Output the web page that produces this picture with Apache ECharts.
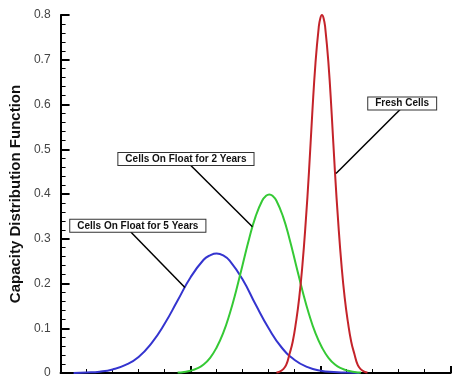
<!DOCTYPE html>
<html>
<head>
<meta charset="utf-8">
<script src="https://cdn.jsdelivr.net/npm/echarts@6/dist/echarts.min.js"></script>
<style>
html,body{margin:0;padding:0;background:#fff;}
#chart{width:457px;height:380px;}
</style>
</head>
<body>
<div id="chart"></div>
<script>
// ---- data ----
const yTicks = [0, 0.1, 0.2, 0.3, 0.4, 0.5, 0.6, 0.7, 0.8];

const blueX = [0.1, 0.2, 0.3, 0.4, 0.5, 0.6, 0.7, 0.8, 0.9, 1.0, 1.1, 1.15, 1.2, 1.25, 1.3, 1.4, 1.5, 1.6, 1.7, 1.8, 1.9, 2.0, 2.1, 2.2, 2.3];
const blueY = [0, 0.001, 0.003, 0.008, 0.018, 0.036, 0.067, 0.110, 0.162, 0.214, 0.253, 0.263, 0.267, 0.263, 0.251, 0.209, 0.153, 0.100, 0.057, 0.029, 0.013, 0.005, 0.002, 0.001, 0];

const greenX = [0.9, 0.95, 1.0, 1.05, 1.1, 1.15, 1.2, 1.25, 1.3, 1.35, 1.4, 1.45, 1.5, 1.55, 1.58, 1.605, 1.63, 1.66, 1.71, 1.76, 1.81, 1.86, 1.91, 1.96, 2.01, 2.06, 2.11, 2.16, 2.21, 2.26, 2.31];
const greenY = [0.001, 0.0024, 0.0051, 0.0102, 0.019, 0.034, 0.057, 0.089, 0.132, 0.184, 0.242, 0.300, 0.350, 0.385, 0.396, 0.399, 0.396, 0.385, 0.350, 0.300, 0.242, 0.184, 0.132, 0.089, 0.057, 0.034, 0.019, 0.0102, 0.0051, 0.0024, 0.001];

const redX = [1.66, 1.685, 1.71, 1.735, 1.76, 1.785, 1.81, 1.835, 1.86, 1.885, 1.91, 1.935, 1.96, 1.985, 1.9975, 2.01, 2.0225, 2.035, 2.06, 2.085, 2.11, 2.135, 2.16, 2.185, 2.21, 2.235, 2.26, 2.285, 2.31, 2.335, 2.36];
const redY = [0.001, 0.003, 0.008, 0.018, 0.042, 0.070, 0.113, 0.168, 0.242, 0.337, 0.449, 0.578, 0.692, 0.772, 0.793, 0.800, 0.793, 0.772, 0.692, 0.578, 0.449, 0.337, 0.242, 0.168, 0.113, 0.070, 0.042, 0.018, 0.008, 0.003, 0.001];

const seriesNames = ['Cells On Float for 5 Years', 'Cells On Float for 2 Years', 'Fresh Cells'];

// annotation anchors (data coordinates): label centre, leader start, leader end
const notes = [
  {label: [0.594, 0.329], from: [0.540, 0.315], to: [0.956, 0.191]},
  {label: [0.964, 0.478], from: [0.998, 0.465], to: [1.475, 0.327]},
  {label: [2.627, 0.602], from: [2.615, 0.590], to: [2.118, 0.446]}
];

const colors = ['#3434cf', '#35c935', '#c4232a'];

function zip(xs, ys) { return xs.map((x, i) => [x, ys[i]]); }
const seriesData = [zip(blueX, blueY), zip(greenX, greenY), zip(redX, redY)];

const chart = echarts.init(document.getElementById('chart'), null, {renderer: 'canvas'});

const series = seriesData.map((d, i) => ({
  name: seriesNames[i],
  type: 'line',
  data: d,
  smooth: 0.5,
  showSymbol: false,
  symbol: 'none',
  lineStyle: {color: colors[i], width: 2},
  z: 2,
  animation: false,
  markLine: {
    silent: true,
    symbol: ['none', 'none'],
    animation: false,
    label: {show: false},
    lineStyle: {color: '#000', width: 1.5, type: 'solid'},
    data: [[{coord: notes[i].from}, {coord: notes[i].to}]]
  },
  markPoint: {
    silent: true,
    animation: false,
    symbol: 'rect',
    symbolSize: 1,
    itemStyle: {color: 'rgba(0,0,0,0)'},
    label: {
      show: true,
      position: 'inside',
      formatter: seriesNames[i],
      fontFamily: 'Liberation Sans, Arial, sans-serif',
      fontWeight: 'bold',
      fontSize: 10,
      lineHeight: 10,
      color: '#111',
      backgroundColor: '#fff',
      borderColor: '#333',
      borderWidth: 1,
      padding: [1, 7]
    },
    data: [{coord: notes[i].label}]
  }
}));

chart.setOption({
  animation: false,
  backgroundColor: '#fff',
  grid: {left: 57.5, right: 6.3, top: 15, bottom: 7, containLabel: false},
  xAxis: {
    type: 'value',
    min: 0, max: 3, interval: 1,
    axisLine: {show: true, lineStyle: {color: '#000', width: 2}},
    axisTick: {show: true, inside: true, length: 7, lineStyle: {color: '#000', width: 2}},
    minorTick: {show: true, splitNumber: 5, length: 4, lineStyle: {color: '#000', width: 1}},
    axisLabel: {show: false},
    splitLine: {show: false},
    minorSplitLine: {show: false}
  },
  yAxis: {
    type: 'value',
    min: 0, max: 0.8, interval: 0.1,
    name: 'Capacity Distribution Function',
    nameLocation: 'middle',
    nameGap: 37,
    nameTextStyle: {fontFamily: 'Liberation Sans, Arial, sans-serif', fontWeight: 'bold', fontSize: 15, color: '#111'},
    axisLine: {show: true, lineStyle: {color: '#000', width: 2}},
    axisTick: {show: true, inside: true, length: 9, lineStyle: {color: '#000', width: 2}},
    minorTick: {show: true, splitNumber: 5, length: 5, lineStyle: {color: '#000', width: 1}},
    axisLabel: {
      margin: 10,
      fontFamily: 'Liberation Sans, Arial, sans-serif',
      fontSize: 12,
      color: '#444',
      formatter: v => { const t = yTicks.find(k => Math.abs(k - v) < 1e-9); return t === 0 ? '0' : (t !== undefined ? t.toFixed(1) : ''); }
    },
    splitLine: {show: false},
    minorSplitLine: {show: false}
  },
  series: series
});
</script>
</body>
</html>
